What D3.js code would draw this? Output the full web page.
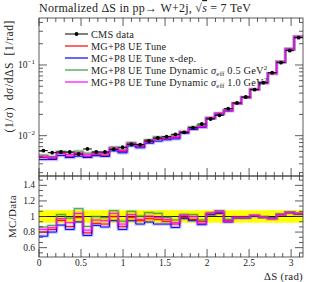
<!DOCTYPE html>
<html><head><meta charset="utf-8">
<script src="https://cdn.jsdelivr.net/npm/d3@7"></script>
<style>
body{margin:0;background:#fff;}
svg{display:block;}
text{font-family:"Liberation Serif","DejaVu Serif",serif;fill:#222;}
</style></head>
<body>
<svg id="c" width="313" height="282"></svg>
<script>
// ---- data ----
const nBins = 30;
const binEdges = d3.range(nBins + 1).map(i => i * Math.PI / nBins);
const cmsData = [0.00614,0.00575,0.00588,0.00588,0.00551,0.00649,0.00588,0.00588,0.00643,0.00686,
                 0.00756,0.00746,0.00842,0.00927,0.00968,0.01047,0.01117,0.01297,0.01463,0.01722,
                 0.01944,0.02410,0.02902,0.03527,0.04474,0.05623,0.07789,0.1079,0.1594,0.2432];
const cmsRelErr = [0.08,0.08,0.08,0.08,0.08,0.08,0.08,0.08,0.08,0.08,0.08,0.08,0.08,0.08,0.08,
                   0.08,0.08,0.08,0.08,0.08,0.08,0.08,0.08,0.08,0.08,0.08,0.08,0.08,0.08,0.08];
const ratioRed = [0.80,0.834,0.95,0.87,0.99,0.79,0.912,0.903,0.998,0.869,0.989,0.946,0.972,0.963,0.938,
                  0.903,0.989,0.963,0.938,1.024,1.049,0.946,0.985,0.989,1.011,0.989,0.972,1.024,1.049,1.032];
const ratioBlue = [0.748,0.80,0.89,0.834,0.93,0.757,0.886,0.865,0.946,0.834,0.946,0.903,0.929,0.903,0.903,
                   0.86,0.972,0.946,0.895,1.024,1.041,0.929,0.981,0.981,1.006,0.989,0.981,1.024,1.049,1.032];
const ratioGreen = [0.865,0.886,1.024,0.98,1.10,0.873,0.998,0.985,1.075,0.94,1.067,1.006,1.049,1.041,0.989,
                    0.955,1.028,1.024,0.955,1.049,1.075,0.963,0.989,0.989,1.015,0.998,0.972,1.032,1.058,1.041];
const ratioMagenta = [0.835,0.856,0.972,0.92,1.04,0.826,0.955,0.946,1.041,0.903,1.024,0.963,1.006,0.989,0.963,
                      0.92,1.015,0.998,0.912,1.041,1.067,0.938,0.989,0.985,1.015,0.989,0.972,1.024,1.054,1.041];
const seriesNames = ["MG+P8 UE Tune","MG+P8 UE Tune x-dep.","MG+P8 UE Tune Dynamic","MG+P8 UE Tune Dynamic"];
const seriesColors = ["#ff0000","#0000ff","#3a9a3a","#ff00ff"];
const seriesRatios = [ratioRed, ratioBlue, ratioGreen, ratioMagenta];
const xTicks = [0,0.5,1,1.5,2,2.5,3];
const xTickLabels = ["0","0.5","1","1.5","2","2.5","3"];
const ratioTicks = [0.6,0.8,1,1.2,1.4];
const ratioTickLabels = ["0.6","0.8","1","1.2","1.4"];

// ---- layout ----
const svg = d3.select("#c");
const L = 39, R = 303, T = 18, MB = 176, RB = 257;
const x = d3.scaleLinear().domain([0, Math.PI]).range([L, R]);
const y = d3.scaleLog().domain([0.00269, 0.462]).range([MB, T]);
const yr = d3.scaleLinear().domain([0.48, 1.52]).range([RB, MB]);

const stepLine = (sc, vals) => d3.line().curve(d3.curveStepAfter)
  .x(d => x(d[0])).y(d => sc(d[1]))(binEdges.map((e, i) => [e, vals[Math.min(i, nBins - 1)]]));

// ---- main panel ----
seriesRatios.forEach((rat, s) => {
  const vals = rat.map((r, i) => r * cmsData[i]);
  svg.append("path").attr("d", stepLine(y, vals)).attr("fill", "none")
    .attr("stroke", seriesColors[s]).attr("stroke-opacity", 0.22).attr("stroke-width", 3.2);
  svg.append("path").attr("d", stepLine(y, vals)).attr("fill", "none")
    .attr("stroke", seriesColors[s]).attr("stroke-width", 1);
});
// data points
const dg = svg.append("g");
cmsData.forEach((v, i) => {
  const cx = x((binEdges[i] + binEdges[i + 1]) / 2);
  dg.append("line").attr("x1", x(binEdges[i])).attr("x2", x(binEdges[i + 1]))
    .attr("y1", y(v)).attr("y2", y(v)).attr("stroke", "#000").attr("stroke-width", 1);
  dg.append("line").attr("x1", cx).attr("x2", cx)
    .attr("y1", y(v * (1 - cmsRelErr[i] / 2))).attr("y2", y(v * (1 + cmsRelErr[i] / 2)))
    .attr("stroke", "#000").attr("stroke-width", 1);
  dg.append("circle").attr("cx", cx).attr("cy", y(v)).attr("r", 1.9).attr("fill", "#000");
});

// ---- ratio panel ----
svg.append("path").attr("d", d3.area().curve(d3.curveStepAfter)
    .x(d => x(d[0])).y0(d => yr(1 - d[1])).y1(d => yr(1 + d[1]))
    (binEdges.map((e, i) => [e, cmsRelErr[Math.min(i, nBins - 1)]])))
  .attr("fill", "#ffff00");
svg.append("line").attr("x1", L).attr("x2", R).attr("y1", yr(1)).attr("y2", yr(1))
  .attr("stroke", "#000").attr("stroke-width", 0.9);
seriesRatios.forEach((rat, s) => {
  svg.append("path").attr("d", stepLine(yr, rat)).attr("fill", "none")
    .attr("stroke", seriesColors[s]).attr("stroke-opacity", 0.22).attr("stroke-width", 3.2);
  svg.append("path").attr("d", stepLine(yr, rat)).attr("fill", "none")
    .attr("stroke", seriesColors[s]).attr("stroke-width", 1);
});

// ---- frames & ticks ----
const ax = svg.append("g").attr("stroke", "#333").attr("stroke-width", 0.8).attr("fill", "none");
ax.append("rect").attr("x", L).attr("y", T).attr("width", R - L).attr("height", MB - T);
ax.append("rect").attr("x", L).attr("y", MB).attr("width", R - L).attr("height", RB - MB);
const minorX = d3.range(0, 32).map(i => i / 10);
minorX.forEach(v => {
  const major = Math.abs(v * 2 - Math.round(v * 2)) < 1e-6;
  const len = major ? 8 : 4;
  const px = x(v);
  ax.append("line").attr("x1", px).attr("x2", px).attr("y1", MB).attr("y2", MB - len);
  ax.append("line").attr("x1", px).attr("x2", px).attr("y1", T).attr("y2", T + len);
  ax.append("line").attr("x1", px).attr("x2", px).attr("y1", MB).attr("y2", MB + 4);
  ax.append("line").attr("x1", px).attr("x2", px).attr("y1", RB).attr("y2", RB - len);
});
[0.001, 0.01, 0.1].forEach(dec => {
  for (let k = 1; k <= 9; k++) {
    const v = dec * k;
    if (v < y.domain()[0] || v > y.domain()[1]) continue;
    const len = k === 1 ? 8 : 4;
    ax.append("line").attr("x1", L).attr("x2", L + len).attr("y1", y(v)).attr("y2", y(v));
    ax.append("line").attr("x1", R).attr("x2", R - len).attr("y1", y(v)).attr("y2", y(v));
  }
});
d3.range(0, 17).map(i => 0.4 + i * 0.2 / 3).forEach((v, i) => {
  if (v < yr.domain()[0] || v > yr.domain()[1]) return;
  const major = i % 3 === 0;
  const len = major ? 8 : 4;
  ax.append("line").attr("x1", L).attr("x2", L + len).attr("y1", yr(v)).attr("y2", yr(v));
  ax.append("line").attr("x1", R).attr("x2", R - len).attr("y1", yr(v)).attr("y2", yr(v));
});

// ---- labels ----
const lab = svg.append("g").attr("font-size", 9.5);
[[0.1, "−1"], [0.01, "−2"]].forEach(([v, e]) => {
  const t = lab.append("text").attr("x", 35).attr("y", y(v) + 3).attr("text-anchor", "end");
  t.append("tspan").text("10");
  t.append("tspan").attr("dy", -4).attr("font-size", 7).text(e);
});
ratioTicks.forEach((v, i) => {
  lab.append("text").attr("x", 35).attr("y", yr(v) + 3).attr("text-anchor", "end").text(ratioTickLabels[i]);
});
xTicks.forEach((v, i) => {
  lab.append("text").attr("x", x(v)).attr("y", 266).attr("text-anchor", "middle").text(xTickLabels[i]);
});
svg.append("text").attr("x", R).attr("y", 279.5).attr("text-anchor", "end").attr("font-size", 10.8)
  .attr("letter-spacing", 0.3).text("ΔS (rad)");
svg.append("text").attr("transform", "translate(13,20) rotate(-90)").attr("text-anchor", "end")
  .attr("font-size", 11.5).attr("letter-spacing", 0.6).attr("word-spacing", 3)
  .text("(1/σ) dσ/dΔS  [1/rad]");
svg.append("text").attr("transform", `translate(16,${yr(1)}) rotate(-90)`).attr("text-anchor", "middle")
  .attr("font-size", 11).attr("letter-spacing", 0.3).text("MC/Data");

// title
const tt = svg.append("text").attr("x", L).attr("y", 12).attr("font-size", 12).attr("letter-spacing", 0.25);
tt.append("tspan").text("Normalized ΔS in pp→ W+2j, √");
tt.append("tspan").attr("font-style", "italic").attr("text-decoration", "overline").text("s");
tt.append("tspan").text(" = 7 TeV");

// ---- legend ----
const lg = svg.append("g").attr("font-size", 10.3).attr("letter-spacing", 0.2);
const rowY = [34, 46, 58, 70, 82];
lg.append("line").attr("x1", 65).attr("x2", 88).attr("y1", rowY[0]).attr("y2", rowY[0]).attr("stroke", "#000");
lg.append("circle").attr("cx", 76.5).attr("cy", rowY[0]).attr("r", 1.9).attr("fill", "#000");
lg.append("text").attr("x", 91).attr("y", rowY[0] + 3.5).text("CMS data");
seriesNames.forEach((n, s) => {
  const yy = rowY[s + 1];
  lg.append("line").attr("x1", 65).attr("x2", 88).attr("y1", yy).attr("y2", yy)
    .attr("stroke", seriesColors[s]).attr("stroke-width", 1.2);
  const t = lg.append("text").attr("x", 91).attr("y", yy + 3.5);
  t.append("tspan").text(n);
  if (s >= 2) {
    t.append("tspan").text(" ");
    t.append("tspan").attr("font-style", "italic").text("σ");
    t.append("tspan").attr("dy", 2).attr("font-size", 7).text("eff");
    t.append("tspan").attr("dy", -2).text(s === 2 ? " 0.5 GeV" : " 1.0 GeV");
    t.append("tspan").attr("dy", -4).attr("font-size", 7).text("2");
  }
});
</script>
</body></html>
